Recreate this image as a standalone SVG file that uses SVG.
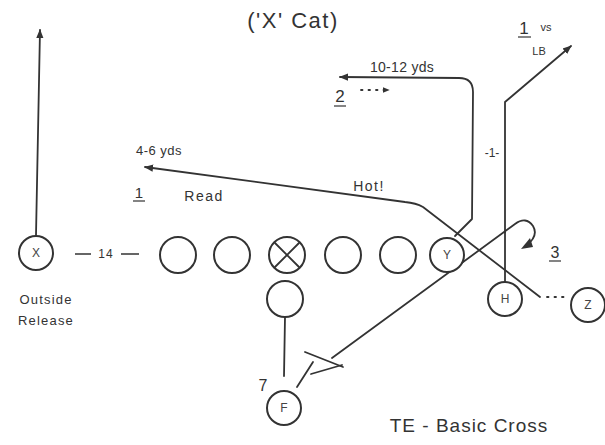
<svg xmlns="http://www.w3.org/2000/svg" width="605" height="445" viewBox="0 0 605 445">
<style>
  .p{fill:#fff;stroke:#333;stroke-width:2}
  .r{fill:none;stroke:#333;stroke-width:1.8;stroke-linecap:round;stroke-linejoin:round}
  .t{font-family:"Liberation Sans",Arial,sans-serif;fill:#333}
  .pl{font-family:"Liberation Sans",Arial,sans-serif;fill:#444;font-size:12px;text-anchor:middle}
</style>
<defs>
  <marker id="ah" viewBox="0 0 10 10" refX="9" refY="5" markerWidth="9" markerHeight="9" markerUnits="userSpaceOnUse" orient="auto">
    <path d="M0,1 L10,5 L0,9 Z" fill="#333"/>
  </marker>
  <marker id="ahs" viewBox="0 0 10 10" refX="9" refY="5" markerWidth="7" markerHeight="7" markerUnits="userSpaceOnUse" orient="auto">
    <path d="M0,1 L10,5 L0,9 Z" fill="#333"/>
  </marker>
</defs>
<rect width="605" height="445" fill="#fff"/>
<text class="t" x="293" y="28" font-size="22" letter-spacing="1.5" text-anchor="middle">('X' Cat)</text>

<g id="connectors">
  <path class="r" d="M36,235 L40,30" marker-end="url(#ah)"/>
  <path class="r" d="M455,236 L472,219 L473,92 Q473,78 459,78 L340,77" marker-end="url(#ah)"/>
  <path class="r" d="M505,282 L505,266"/>
  <path class="r" d="M505,265 L505,232" stroke-width="1"/>
  <path class="r" d="M505,232 L505,102 L571,46" marker-end="url(#ah)"/>
  <path class="r" d="M540,297 L423,207 Q416,203 405,202 L145,167" stroke-width="2.2" marker-end="url(#ah)"/>
  <path class="r" d="M547,297 L566,297" stroke-dasharray="1.5,6" stroke-width="2.2"/>
  <path class="r" d="M361,90 L389,90" stroke-dasharray="1.5,6" stroke-width="2" marker-end="url(#ahs)"/>
  <path class="r" d="M297,387 L313,362"/>
  <path class="r" d="M305,352 L343,367"/>
  <path class="r" d="M311,374 L342,365"/>
  <path class="r" d="M332,358 L515,224 Q526,216 533,226 Q539,236 526,246"/>
  <path d="M521,249 L530,238 L533,247 Z" fill="#333"/>
  <path class="r" d="M285,317 L284,376" stroke-width="1.5"/>
</g>

<g id="X"><circle class="p" cx="36" cy="253" r="17"/><text class="pl" x="36" y="257">X</text></g>
<g id="L1"><circle class="p" cx="178" cy="255" r="18"/></g>
<g id="L2"><circle class="p" cx="232" cy="255" r="18"/></g>
<g id="C"><circle class="p" cx="287" cy="255" r="18"/><path class="r" d="M275,243 L299,267 M299,243 L275,267"/></g>
<g id="R1"><circle class="p" cx="343" cy="255" r="18"/></g>
<g id="R2"><circle class="p" cx="398" cy="255" r="18"/></g>
<g id="Y"><circle class="p" cx="447" cy="255" r="17"/><text class="pl" x="447" y="259">Y</text></g>
<g id="Q"><circle class="p" cx="285" cy="299" r="18"/></g>
<g id="H"><circle class="p" cx="505" cy="299" r="17"/><text class="pl" x="505" y="303">H</text></g>
<g id="Z"><circle class="p" cx="588" cy="305" r="17"/><text class="pl" x="588" y="309">Z</text></g>
<g id="F"><circle class="p" cx="284" cy="408" r="17"/><text class="pl" x="284" y="412">F</text></g>

<g id="labels">
  <line x1="75" y1="254" x2="91" y2="254" stroke="#333" stroke-width="1.5"/>
  <text class="t" x="106" y="258" font-size="12" letter-spacing="1" text-anchor="middle">14</text>
  <line x1="121" y1="254" x2="139" y2="254" stroke="#333" stroke-width="1.5"/>
  <text class="t" x="46" y="304" font-size="13" letter-spacing="1.2" text-anchor="middle">Outside</text>
  <text class="t" x="46" y="325" font-size="13" letter-spacing="1.2" text-anchor="middle">Release</text>
  <text class="t" x="159" y="155" font-size="13" letter-spacing="0.5" text-anchor="middle">4-6 yds</text>
  <text class="t" x="139" y="198" font-size="15" text-anchor="middle">1</text>
  <line x1="133" y1="201" x2="145" y2="201" stroke="#333" stroke-width="1.2"/>
  <text class="t" x="204" y="201" font-size="14" letter-spacing="1.5" text-anchor="middle">Read</text>
  <text class="t" x="369" y="191" font-size="14" letter-spacing="1.5" text-anchor="middle">Hot!</text>
  <text class="t" x="402" y="72" font-size="14" letter-spacing="0.3" text-anchor="middle">10-12 yds</text>
  <text class="t" x="340" y="102" font-size="17" text-anchor="middle">2</text>
  <line x1="334" y1="106" x2="346" y2="106" stroke="#333" stroke-width="1.2"/>
  <text class="t" x="492" y="157" font-size="12" text-anchor="middle">-1-</text>
  <text class="t" x="524" y="34" font-size="17" text-anchor="middle">1</text>
  <line x1="518" y1="37" x2="531" y2="37" stroke="#333" stroke-width="1.2"/>
  <text class="t" x="546" y="31" font-size="11" text-anchor="middle">vs</text>
  <text class="t" x="539" y="55" font-size="11" text-anchor="middle">LB</text>
  <text class="t" x="555" y="258" font-size="16" text-anchor="middle">3</text>
  <line x1="549" y1="261" x2="561" y2="261" stroke="#333" stroke-width="1.2"/>
  <text class="t" x="263" y="391" font-size="16" text-anchor="middle">7</text>
  <text class="t" x="469" y="432" font-size="19" letter-spacing="1" text-anchor="middle">TE - Basic Cross</text>
</g>
</svg>
